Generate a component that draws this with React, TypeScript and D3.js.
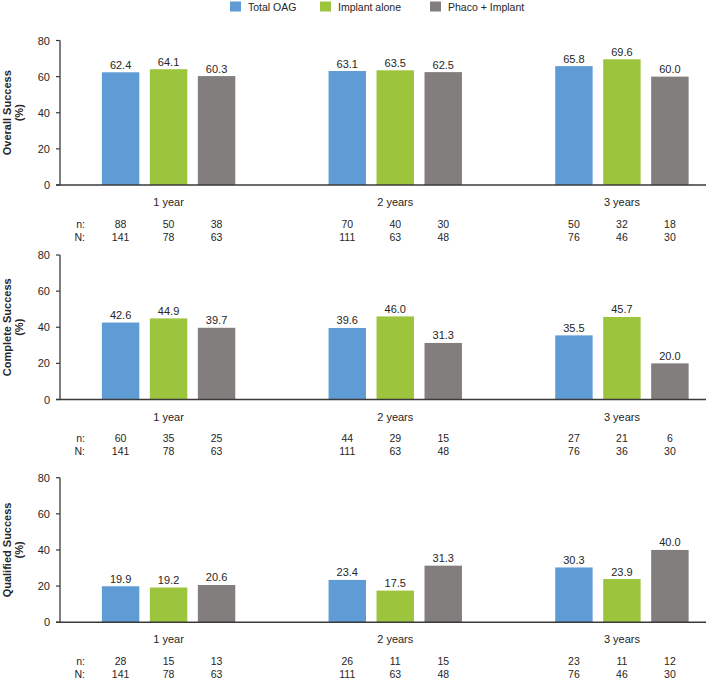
import React from "react";
import * as d3 from "d3";

const categories = ["1 year", "2 years", "3 years"];
const seriesNames = ["Total OAG", "Implant alone", "Phaco + Implant"];
const seriesColors = ["#5f9bd4", "#9dc43d", "#827e7d"];
const yTicks = [0, 20, 40, 60, 80];

const overallValues = [[62.4, 64.1, 60.3], [63.1, 63.5, 62.5], [65.8, 69.6, 60.0]];
const overallN = [[88, 50, 38], [70, 40, 30], [50, 32, 18]];
const overallTotal = [[141, 78, 63], [111, 63, 48], [76, 46, 30]];

const completeValues = [[42.6, 44.9, 39.7], [39.6, 46.0, 31.3], [35.5, 45.7, 20.0]];
const completeN = [[60, 35, 25], [44, 29, 15], [27, 21, 6]];
const completeTotal = [[141, 78, 63], [111, 63, 48], [76, 36, 30]];

const qualifiedValues = [[19.9, 19.2, 20.6], [23.4, 17.5, 31.3], [30.3, 23.9, 40.0]];
const qualifiedN = [[28, 15, 13], [26, 11, 15], [23, 11, 12]];
const qualifiedTotal = [[141, 78, 63], [111, 63, 48], [76, 46, 30]];

const panelTitles = ["Overall Success", "Complete Success", "Qualified Success"];
const panels = [
  { title: panelTitles[0], values: overallValues, n: overallN, N: overallTotal },
  { title: panelTitles[1], values: completeValues, n: completeN, N: completeTotal },
  { title: panelTitles[2], values: qualifiedValues, n: qualifiedN, N: qualifiedTotal },
];

const W = 709;
const H = 679;
const FONT = "'Liberation Sans', Arial, sans-serif";
const TEXT = "#262626";
const AXIS = "#3a3a3a";
const panelTops = [40.5, 255, 477.7];
const panelH = 144.5;
const axisX = 60;

const x0 = d3.scaleBand<string>().domain(categories).range([55.25, 735.25]).padding(0);
const x1 = d3.scaleBand<string>().domain(seriesNames).range([-66.7, 66.7]).paddingInner(0.22).paddingOuter(0);

function Panel({ p, top }: { p: typeof panels[0]; top: number }) {
  const y = d3.scaleLinear().domain([0, 80]).range([top + panelH, top]);
  const base = y(0);
  const mid = (y(0) + y(80)) / 2;
  return (
    <g>
      {/* y axis title */}
      <text transform={`translate(11,${mid}) rotate(-90)`} textAnchor="middle" fontSize={11} fontWeight="bold" fill={TEXT} fontFamily={FONT}>{p.title}</text>
      <text transform={`translate(23,${mid}) rotate(-90)`} textAnchor="middle" fontSize={11} fontWeight="bold" fill={TEXT} fontFamily={FONT}>(%)</text>
      {/* bars */}
      {categories.map((c, ci) => (
        <g key={c}>
          {seriesNames.map((s, si) => {
            const cx = (x0(c) as number) + x0.bandwidth() / 2 + (x1(s) as number);
            const v = p.values[ci][si];
            const bw = x1.bandwidth();
            return (
              <g key={s}>
                <rect x={cx} y={y(v)} width={bw} height={base - y(v)} fill={seriesColors[si]} />
                <text x={cx + bw / 2} y={y(v) - 3.5} textAnchor="middle" fontSize={11} fill={TEXT} fontFamily={FONT}>{v.toFixed(1)}</text>
                <text x={cx + bw / 2} y={base + 42.5} textAnchor="middle" fontSize={10.5} fill={TEXT} fontFamily={FONT}>{p.n[ci][si]}</text>
                <text x={cx + bw / 2} y={base + 55.5} textAnchor="middle" fontSize={10.5} fill={TEXT} fontFamily={FONT}>{p.N[ci][si]}</text>
              </g>
            );
          })}
          <text x={(x0(c) as number) + x0.bandwidth() / 2} y={base + 21} textAnchor="middle" fontSize={11} fill={TEXT} fontFamily={FONT}>{c}</text>
        </g>
      ))}
      <text x={85} y={base + 42.5} textAnchor="end" fontSize={10.5} fill={TEXT} fontFamily={FONT}>n:</text>
      <text x={85} y={base + 55.5} textAnchor="end" fontSize={10.5} fill={TEXT} fontFamily={FONT}>N:</text>
      {/* y axis */}
      <line x1={axisX} x2={axisX} y1={y(80)} y2={base} stroke={AXIS} strokeWidth={1.3} />
      {yTicks.map((t) => (
        <g key={t}>
          <line x1={axisX - 4} x2={axisX} y1={y(t)} y2={y(t)} stroke={AXIS} strokeWidth={1.2} />
          <text x={50} y={y(t) + 4} textAnchor="end" fontSize={11} fill={TEXT} fontFamily={FONT}>{t}</text>
        </g>
      ))}
      {/* x axis */}
      <line x1={axisX - 4} x2={706} y1={base} y2={base} stroke={AXIS} strokeWidth={1.4} />
    </g>
  );
}

export default function App() {
  const legendX = [230, 320, 430];
  return (
    <svg width={W} height={H} style={{ position: "absolute", left: 0, top: 0, background: "#fff" }}>
      <rect x={0} y={0} width={W} height={H} fill="#fff" />
      {seriesNames.map((s, i) => (
        <g key={s}>
          <rect x={legendX[i]} y={1.5} width={11} height={10} fill={seriesColors[i]} />
          <text x={legendX[i] + 18} y={11} fontSize={10.5} fill={TEXT} fontFamily={FONT}>{s}</text>
        </g>
      ))}
      {panels.map((p, i) => (
        <Panel key={p.title} p={p} top={panelTops[i]} />
      ))}
    </svg>
  );
}
